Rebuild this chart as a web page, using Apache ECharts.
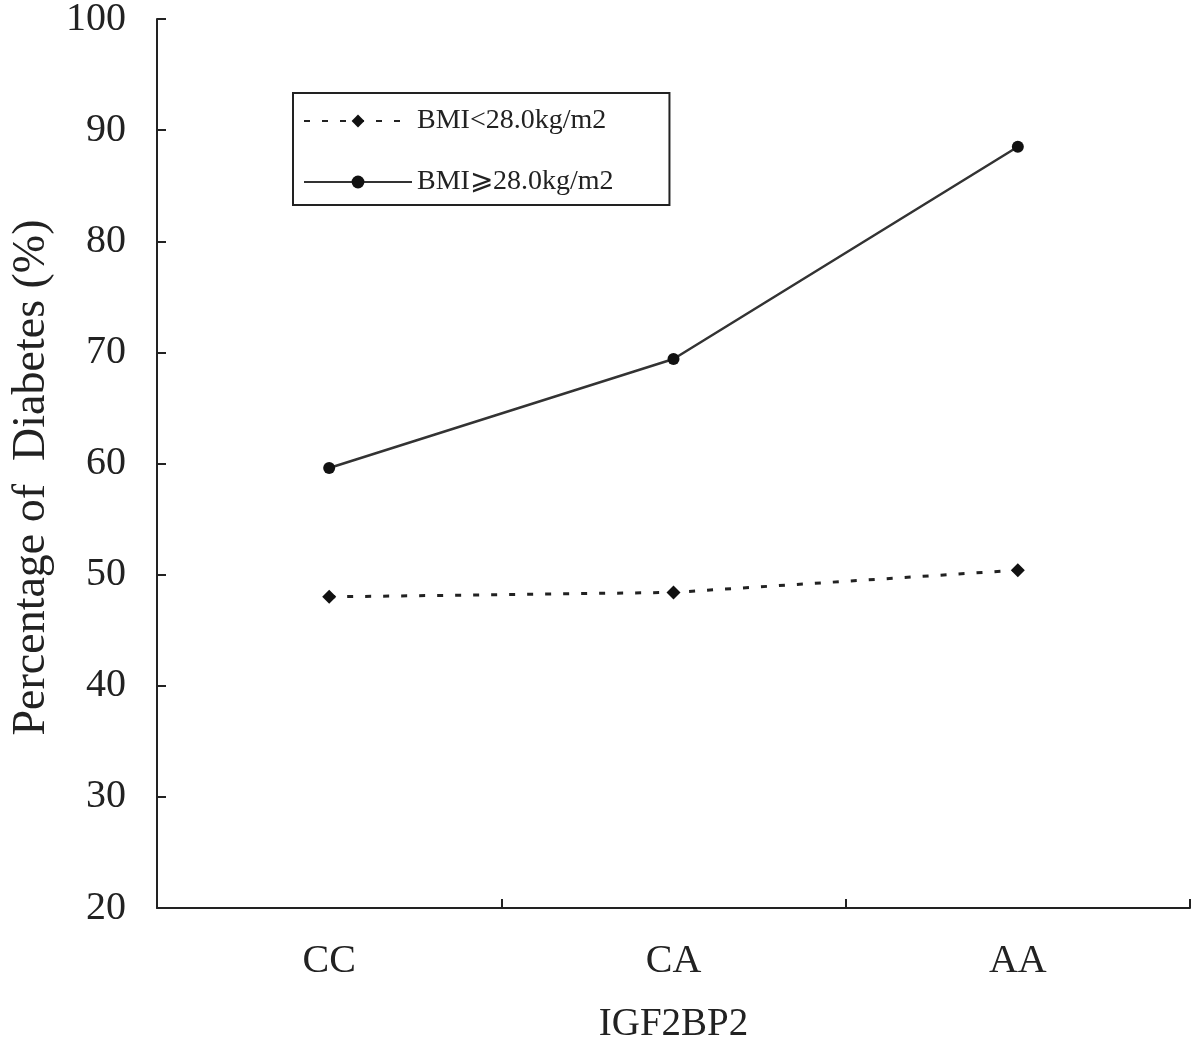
<!DOCTYPE html>
<html><head><meta charset="utf-8">
<script src="https://cdn.jsdelivr.net/npm/echarts@6/dist/echarts.min.js"></script>
<style>html,body{margin:0;padding:0;background:#fff}#c{width:1200px;height:1045px}</style>
</head><body><div id="c"></div>
<script>
const categories = ['CC', 'CA', 'AA'];
const lowBMI = [48.0, 48.4, 50.4];
const highBMI = [59.6, 69.4, 88.5];
const seriesNames = ['BMI<28.0kg/m2', 'BMI\u2A7E28.0kg/m2'];
const yTicks = {min: 20, max: 100, interval: 10};

const font = '"Liberation Serif", "Times New Roman", "DejaVu Serif", serif';
const chart = echarts.init(document.getElementById('c'));
chart.setOption({
  backgroundColor: '#fff',
  animation: false,
  grid: {left: 157, right: 10, top: 19, bottom: 137, outerBoundsMode: 'none', containLabel: false},
  legend: {
    orient: 'vertical', left: 293, top: 93,
    padding: [14, 56, 9, 10],
    itemGap: 33, itemWidth: 108, itemHeight: 16,
    borderColor: '#222', borderWidth: 2,
    textStyle: {fontFamily: font, fontSize: 28, color: '#222', padding: [0, 0, 0, 0]},
    data: seriesNames
  },
  xAxis: {
    type: 'category', data: categories, boundaryGap: true,
    name: 'IGF2BP2', nameLocation: 'middle', nameGap: 97,
    nameTextStyle: {fontFamily: font, fontSize: 39, color: '#222'},
    axisLine: {show: true, lineStyle: {color: '#222', width: 2}},
    axisTick: {show: true, inside: true, length: 9, alignWithLabel: false, lineStyle: {color: '#222', width: 2}},
    axisLabel: {fontFamily: font, fontSize: 40, color: '#222', margin: 33}
  },
  yAxis: {
    type: 'value', min: yTicks.min, max: yTicks.max, interval: yTicks.interval,
    name: 'Percentage of  Diabetes (%)', nameLocation: 'middle', nameGap: 97,
    nameTextStyle: {fontFamily: font, fontSize: 46, color: '#222', padding: [0, 28, 0, 0]},
    axisLine: {show: true, lineStyle: {color: '#222', width: 2}},
    axisTick: {show: true, inside: true, length: 9, lineStyle: {color: '#222', width: 2}},
    axisLabel: {fontFamily: font, fontSize: 40, color: '#222', margin: 31},
    splitLine: {show: false}
  },
  series: [
    {
      name: seriesNames[0], type: 'line', data: lowBMI,
      symbol: 'diamond', symbolSize: 14,
      lineStyle: {color: '#222', width: 3, type: [6, 12]},
      itemStyle: {color: '#111'}
    },
    {
      name: seriesNames[1], type: 'line', data: highBMI,
      symbol: 'circle', symbolSize: 12,
      lineStyle: {color: '#333', width: 2.5},
      itemStyle: {color: '#111'}
    }
  ]
});
</script></body></html>
